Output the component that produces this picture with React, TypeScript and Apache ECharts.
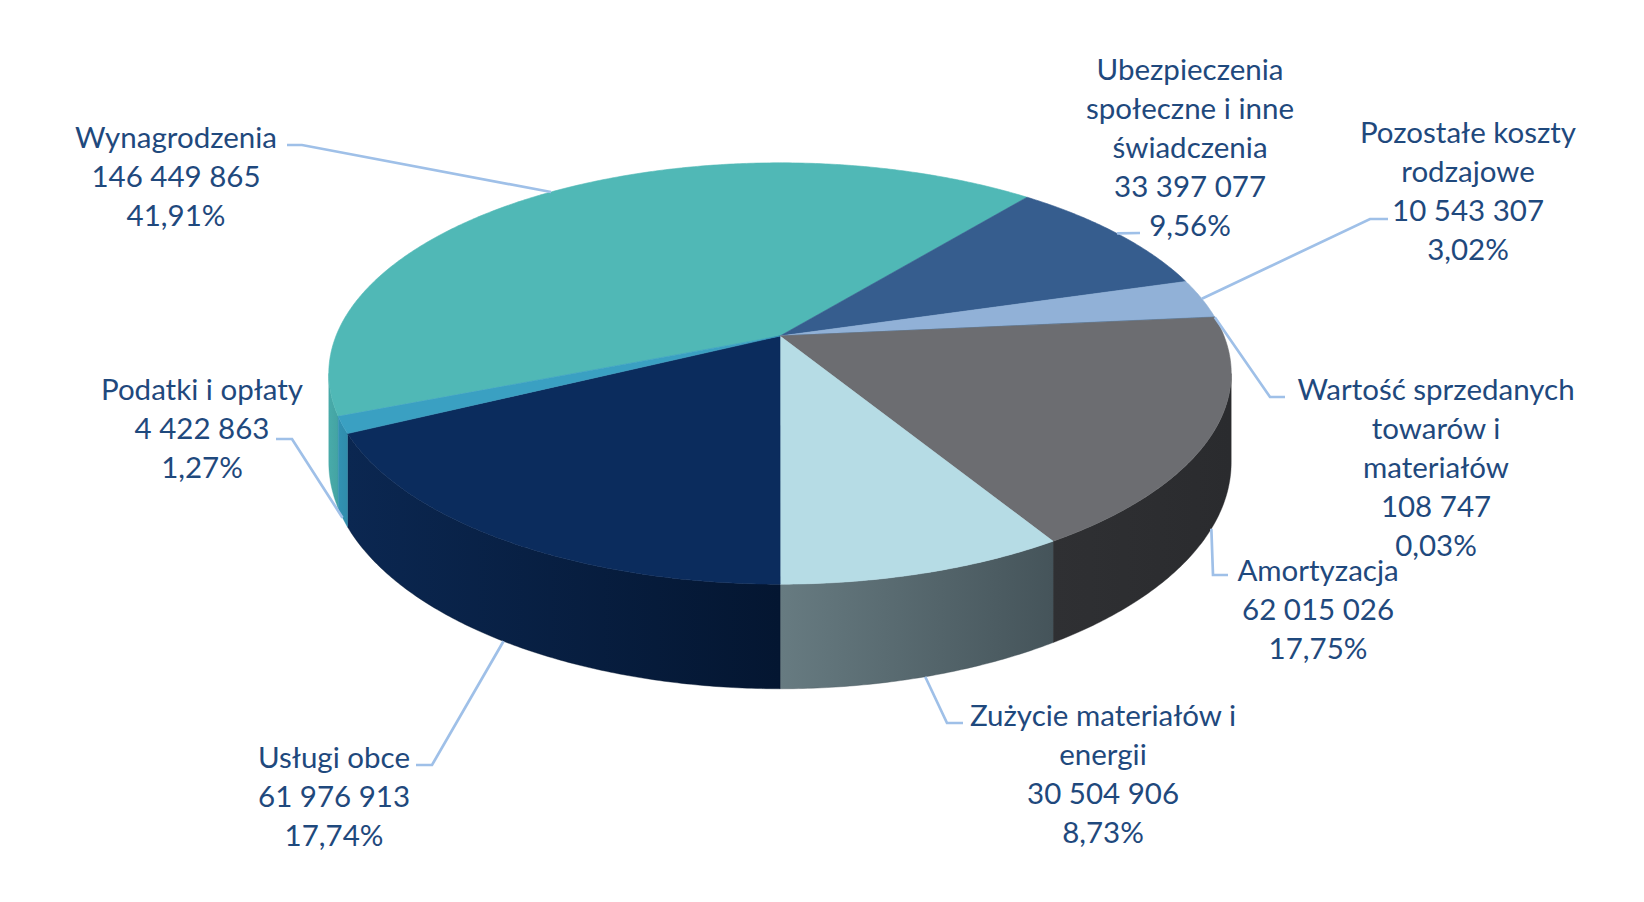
import { useEffect, useRef } from "react";
import * as echarts from "echarts";

const categories = [
  "Wynagrodzenia",
  "Ubezpieczenia\nspołeczne i inne\nświadczenia",
  "Pozostałe koszty\nrodzajowe",
  "Wartość sprzedanych\ntowarów i\nmateriałów",
  "Amortyzacja",
  "Zużycie materiałów i\nenergii",
  "Usługi obce",
  "Podatki i opłaty",
];

const values = [
  146449865, 33397077, 10543307, 108747, 62015026, 30504906, 61976913, 4422863,
];

const topColors = [
  "#50b8b6",
  "#365d8e",
  "#91b1d7",
  "#5b7fa6",
  "#6c6d71",
  "#b6dce5",
  "#0b2c5d",
  "#3aa0c2",
];

// side wall gradient, left -> right
const wallColors = [
  ["#48abaa", "#44a3a2"],
  ["#2b4b73", "#2b4b73"],
  ["#7896b8", "#7896b8"],
  ["#4b6a8c", "#4b6a8c"],
  ["#2f3033", "#2a2b2e"],
  ["#677b81", "#45545a"],
  ["#0b2751", "#041631"],
  ["#3292b3", "#2f8cac"],
];

// label layout: text centre x, first line centre y, elbow x/y, end x/y
const labelLayout = [
  [176, 136, 302, 145, 287, 145],
  [1190, 68, 1140, 233, 1140, 233],
  [1468, 131, 1370, 219, 1388, 219],
  [1436, 388, 1270, 397, 1285, 397],
  [1318, 569, 1213, 575, 1228, 575],
  [1103, 714, 947, 723, 963, 723],
  [334, 756, 432, 765, 416, 765],
  [202, 388, 292, 439, 276, 439],
];

// pie geometry (angles in degrees, clockwise from the back of the pie)
const CX = 780;
const CY = 336;
const RX = 444;
const RY = 204;
const K = 0.178; // perspective
const H = 86; // thickness
const START = 248.4;
const VIS0 = (Math.acos(-K) * 180) / Math.PI;
const VIS1 = 360 - VIS0;

const total = values.reduce((s, v) => s + v, 0);
const starts: number[] = [];
const ends: number[] = [];
let acc = START;
values.forEach((v) => {
  starts.push(acc);
  acc += (v / total) * 360;
  ends.push(acc);
});

function proj(deg: number, depth: number) {
  const p = (deg * Math.PI) / 180;
  const X = Math.sin(p);
  const Z = -Math.cos(p);
  const w = 1 / (1 - K * Z);
  return [CX + RX * X * w, CY + RY * Z * w + depth * w];
}

function arc(a0: number, a1: number, depth: number) {
  const pts: number[][] = [];
  for (let a = a0; a < a1; a += 0.5) pts.push(proj(a, depth));
  pts.push(proj(a1, depth));
  return pts;
}

const fmt = (n: number) => n.toString().replace(/\B(?=(\d{3})+(?!\d))/g, " ");
const pct = (n: number) => ((n / total) * 100).toFixed(2).replace(".", ",") + "%";

export default function App() {
  const chartRef = useRef<HTMLDivElement>(null);

  useEffect(() => {
    document.body.style.margin = "0";
    const myChart = echarts.init(chartRef.current!, null, { renderer: "svg" });

    const option = {
      animation: false,
      backgroundColor: "#ffffff",
      series: [
        {
          type: "custom",
          coordinateSystem: "none",
          data: values.map((v) => [v]),
          renderItem: (params: any) => {
            const i = params.dataIndex;
            const a0 = starts[i];
            const a1 = ends[i];
            const children: any[] = [];

            // top face
            const top = [[CX, CY], ...arc(a0, a1, 0)];
            children.push({
              type: "polygon",
              shape: { points: top },
              style: { fill: topColors[i], stroke: topColors[i], lineWidth: 0.6 },
              z2: 1,
            });

            // front wall
            [0, -360].forEach((off) => {
              const s = Math.max(a0 + off, VIS0);
              const e = Math.min(a1 + off, VIS1);
              if (e > s) {
                const pts = [...arc(s, e, 0), ...arc(s, e, H).reverse()];
                children.push({
                  type: "polygon",
                  shape: { points: pts },
                  style: {
                    fill: new echarts.graphic.LinearGradient(0, 0, 1, 0, [
                      { offset: 0, color: wallColors[i][0] },
                      { offset: 1, color: wallColors[i][1] },
                    ]),
                    stroke: wallColors[i][1],
                    lineWidth: 0.4,
                  },
                  z2: 0,
                });
              }
            });

            // leader line
            const mid = (((a0 + a1) / 2) % 360 + 360) % 360;
            const front = mid > VIS0 && mid < VIS1;
            const anchor = proj(mid, front ? H : 0);
            const [tx, ty, ex, ey, fx, fy] = labelLayout[i];
            children.push({
              type: "polyline",
              shape: { points: [anchor, [ex, ey], [fx, fy]] },
              style: { stroke: "#9fc0e8", lineWidth: 2.7, fill: null },
              z2: 2,
            });

            // label
            children.push({
              type: "text",
              x: tx,
              y: ty - 19.5,
              style: {
                text: `${categories[i]}\n${fmt(values[i])}\n${pct(values[i])}`,
                align: "center",
                verticalAlign: "top",
                fontFamily: "Lato",
                fontSize: 29.5,
                lineHeight: 39,
                fill: "#1f497d",
              },
              z2: 3,
            });

            return { type: "group", children };
          },
        },
      ],
    };

    myChart.setOption(option);

    const handleResize = () => myChart.resize();
    window.addEventListener("resize", handleResize);

    return () => {
      window.removeEventListener("resize", handleResize);
      myChart.dispose();
    };
  }, []);

  return <div ref={chartRef} style={{ width: "1644px", height: "902px" }} />;
}
